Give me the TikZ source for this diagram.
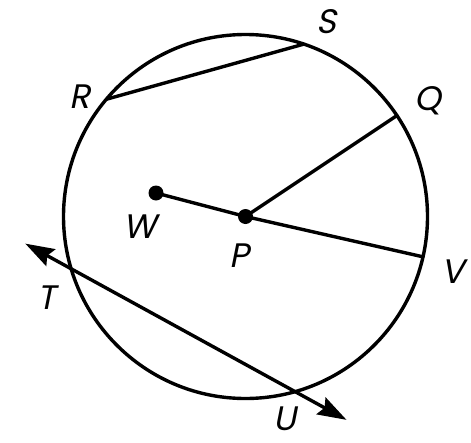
\documentclass[tikz,border=0pt]{standalone}
\usepackage{fontspec}
\newfontfamily\labfont{Poppins}[FakeSlant=0.2]
\usetikzlibrary{arrows.meta,calc}
\tikzset{
  geo/.style={line width=3.4pt, line cap=round},
  lab/.style={font=\labfont\fontsize{34}{34}\selectfont, inner sep=0pt},
  dotpt/.style={circle, fill=black, inner sep=0pt, minimum size=15pt},
  geotip/.tip={Stealth[length=29pt,width=19pt,inset=4pt]}
}
\begin{document}
\begin{tikzpicture}[x=1pt,y=-1pt]
\useasboundingbox (0,0) rectangle (471,442);
\def\rr{182}
\coordinate (P) at (245.5,216.5);
\draw[geo] (P) circle (\rr);
\coordinate (S) at ($(P)+(-71.3:\rr)$);
\coordinate (R) at ($(P)+(-139.9:\rr)$);
\coordinate (Q) at ($(P)+(-33.7:\rr)$);
\coordinate (V) at ($(P)+(12.8:\rr)$);
\coordinate (T) at ($(P)+(163.3:\rr)$);
\coordinate (U) at ($(P)+(74.2:\rr)$);
\coordinate (W) at (156,193);
\coordinate (Tend) at ($(T)!-0.205!(U)$);
\coordinate (Uend) at ($(T)!1.23!(U)$);
\draw[geo] (R) -- (S);
\draw[geo] (W) -- (P) -- (V);
\draw[geo] (P) -- (Q);
\draw[geo, line cap=butt, geotip-geotip] (Tend) -- (Uend);
\node[dotpt] (Wd) at (W) {};
\node[dotpt] (Pd) at (P) {};
\node[lab] (lS) at (326,22) {S};
\node[lab] (lR) at (80,97) {R};
\node[lab] (lQ) at (428,101) {Q};
\node[lab] (lW) at (140,227) {W};
\node[lab] (lP) at (239,256) {P};
\node[lab] (lV) at (453,272) {V};
\node[lab] (lT) at (47,298) {T};
\node[lab] (lU) at (285,419) {U};
\end{tikzpicture}
\end{document}
